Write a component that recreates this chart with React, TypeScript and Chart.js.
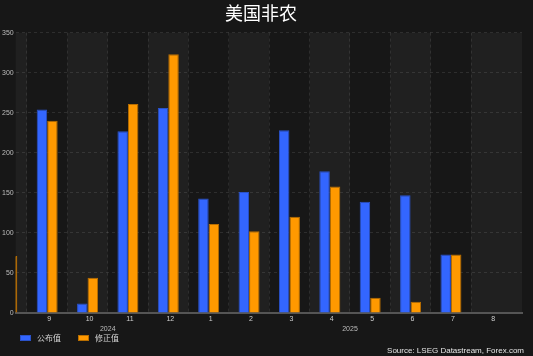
import React, { useEffect, useRef } from 'react';
import { Chart, registerables } from 'chart.js';

Chart.register(...registerables);

// Month index 0 = Aug 2024 ... 12 = Aug 2025
const monthLabels = ['8', '9', '10', '11', '12', '1', '2', '3', '4', '5', '6', '7', '8'];
const releasedValues: (number | null)[] = [null, 254, 12, 227, 256, 143, 151, 228, 177, 139, 147, 73, null];
const revisedValues: (number | null)[] = [71, 240, 44, 261, 323, 111, 102, 120, 158, 19, 14, 73, null];
const yearLabels = ['2024', '2025'];
const yearSpans: [number, number][] = [[1, 4], [5, 12]];
const yTickStep = 50;
const yMax = 350;
const seriesNames = ['公布值', '修正值'];
const titleText = '美国非农';
const sourceText = 'Source: LSEG Datastream, Forex.com';

const X_MIN = 0.22;
const X_MAX = 12.76;

const yearCenters = yearSpans.map(([a, b]) => (a + b) / 2);

const bandsPlugin = {
  id: 'bands',
  beforeDraw(chart: any) {
    const { ctx, chartArea, scales } = chart;
    const { left, right, top, bottom } = chartArea;
    const x = scales.x;
    ctx.save();
    ctx.fillStyle = '#171717';
    ctx.fillRect(0, 0, chart.width, chart.height);
    ctx.beginPath();
    ctx.rect(left, top, right - left, bottom - top);
    ctx.clip();
    ctx.fillStyle = '#202020';
    monthLabels.forEach((_, i) => {
      if (i % 2 === 0) {
        const a = x.getPixelForValue(i - 0.5);
        const b = i === monthLabels.length - 1 ? right : x.getPixelForValue(i + 0.5);
        ctx.fillRect(a, top, b - a, bottom - top);
      }
    });
    ctx.restore();
  },
};

const overlayPlugin = {
  id: 'overlay',
  afterDraw(chart: any) {
    const ctx = chart.ctx;
    ctx.save();
    chart.data.datasets.forEach((ds: any, i: number) => {
      const bx = 20 + i * 58;
      const by = 335;
      ctx.fillStyle = ds.backgroundColor;
      ctx.fillRect(bx, by, 11, 6);
      ctx.strokeStyle = ds.borderColor;
      ctx.lineWidth = 1;
      ctx.strokeRect(bx + 0.5, by + 0.5, 10, 5);
      ctx.fillStyle = '#d4d4d4';
      ctx.font = '8px "Noto Sans CJK SC"';
      ctx.textBaseline = 'middle';
      ctx.textAlign = 'left';
      ctx.fillText(ds.label, bx + 17, by + 3);
    });
    ctx.font = '8px "Liberation Sans"';
    ctx.textAlign = 'right';
    ctx.textBaseline = 'alphabetic';
    ctx.fillStyle = '#e6e6e6';
    ctx.fillText(sourceText, 524, 353);
    ctx.restore();
  },
};

const gridColor = 'rgba(255,255,255,0.09)';

export default function App() {
  const ref = useRef<HTMLCanvasElement>(null);
  useEffect(() => {
    document.body.style.margin = '0';
    document.body.style.background = '#171717';
    const canvas = ref.current!;
    const chart = new Chart(canvas, {
      type: 'bar',
      data: {
        datasets: [
          {
            label: seriesNames[0],
            data: releasedValues.map((v, i) => ({ x: i, y: v })) as any,
            backgroundColor: '#3366ff',
            borderColor: '#2a52c9',
            borderWidth: 1,
          },
          {
            label: seriesNames[1],
            data: revisedValues.map((v, i) => ({ x: i, y: v })) as any,
            backgroundColor: '#ff9900',
            borderColor: '#b86e00',
            borderWidth: 1,
          },
        ],
      },
      options: {
        responsive: false,
        animation: false,
        devicePixelRatio: 1,
        layout: { padding: { left: 0, right: 11, top: 0, bottom: 23 } },
        datasets: { bar: { categoryPercentage: 0.52, barPercentage: 1 } } as any,
        plugins: {
          legend: { display: false },
          tooltip: { enabled: false },
          title: {
            display: true,
            text: titleText,
            color: '#ffffff',
            font: { size: 18, family: '"Noto Sans CJK SC"', weight: 'normal' as any },
            padding: { top: 2, bottom: 9 },
          },
        },
        scales: {
          x: {
            type: 'linear',
            position: 'bottom',
            min: X_MIN,
            max: X_MAX,
            offset: false,
            grid: {
              offset: true,
              color: (c: any) => (c.index === undefined ? 'rgba(0,0,0,0)' : gridColor),
              drawTicks: false,
            },
            border: { display: true, color: '#555555', width: 2, dash: [3, 3] },
            ticks: {
              stepSize: 1,
              includeBounds: false,
              autoSkip: false,
              maxRotation: 0,
              padding: 3,
              labelOffset: 2,
              color: '#cfcfcf',
              font: { size: 7, family: '"Liberation Sans"', lineHeight: 1 },
              callback: (v: any) => monthLabels[v] ?? '',
            },
          } as any,
          x2: {
            type: 'linear',
            position: 'bottom',
            min: X_MIN,
            max: X_MAX,
            offset: false,
            grid: { display: false, drawTicks: false },
            border: { display: false },
            afterBuildTicks: (axis: any) => {
              axis.ticks = yearCenters.map((v) => ({ value: v }));
            },
            ticks: {
              autoSkip: false,
              maxRotation: 0,
              padding: 0,
              color: '#bdbdbd',
              font: { size: 7, family: '"Liberation Sans"', lineHeight: 1 },
              callback: (v: any) => {
                const k = yearCenters.indexOf(v);
                return k >= 0 ? yearLabels[k] : '';
              },
            },
          } as any,
          y: {
            min: 0,
            max: yMax,
            grid: { color: 'rgba(255,255,255,0.1)', drawTicks: false },
            border: { display: false, dash: [3, 3] },
            ticks: {
              stepSize: yTickStep,
              padding: 2,
              color: '#bdbdbd',
              font: { size: 7, family: '"Liberation Sans"' },
            },
          },
        },
      },
      plugins: [bandsPlugin, overlayPlugin],
    });
    return () => chart.destroy();
  }, []);
  return (
    <div style={{ width: 533, height: 356, background: '#171717' }}>
      <canvas ref={ref} width={533} height={356} style={{ display: 'block' }} />
    </div>
  );
}
